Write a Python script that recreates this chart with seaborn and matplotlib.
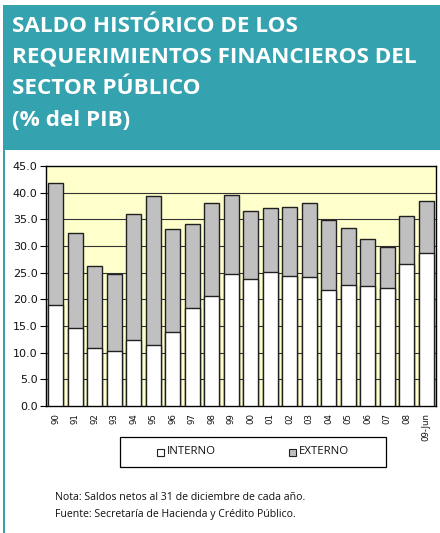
import matplotlib
matplotlib.use("Agg")
import matplotlib.pyplot as plt
import matplotlib.patches as mpatches
import seaborn as sns
import pandas as pd
import numpy as np

years = ["90", "91", "92", "93", "94", "95", "96", "97", "98", "99",
         "00", "01", "02", "03", "04", "05", "06", "07", "08", "09-Jun"]
interno = [18.9, 14.6, 10.8, 10.4, 12.3, 11.4, 13.9, 18.3, 20.7, 24.7,
           23.9, 25.1, 24.3, 24.1, 21.8, 22.6, 22.5, 22.2, 26.6, 28.6]
total = [41.9, 32.4, 26.3, 24.7, 36.0, 39.4, 33.2, 34.1, 38.0, 39.5,
         36.6, 37.1, 37.4, 38.1, 34.8, 33.4, 31.3, 29.8, 35.7, 38.5]
externo = [round(t - i, 1) for t, i in zip(total, interno)]
yticks = [0, 5, 10, 15, 20, 25, 30, 35, 40, 45]
series_names = ["INTERNO", "EXTERNO"]

df = pd.DataFrame({"anio": years, "interno": interno, "externo": externo})
df["total"] = df["interno"] + df["externo"]

sns.set_theme(style="white")
plt.rcParams['font.family'] = ['DejaVu Sans']

W, H = 440, 533
fig = plt.figure(figsize=(W / 100, H / 100), dpi=100)

def fx(px):
    return px / W

def fy(py):
    return 1 - py / H

teal = "#35A2AF"
# header box
fig.add_artist(mpatches.Rectangle((fx(4), fy(150)), 436 / W, 145 / H,
                                  transform=fig.transFigure, facecolor=teal,
                                  edgecolor="none"))
# left border line
fig.add_artist(mpatches.Rectangle((fx(3), 0), 2 / W, fy(5),
                                  transform=fig.transFigure, facecolor=teal,
                                  edgecolor="none"))
title_lines = ["SALDO HISTÓRICO DE LOS", "REQUERIMIENTOS FINANCIEROS DEL",
               "SECTOR PÚBLICO", "(% del PIB)"]
baselines = [32, 63, 94, 126]
for line, yy in zip(title_lines, baselines):
    fig.text(fx(12), fy(yy), line, color="white", fontsize=16.2,
             fontweight="bold", family=["Open Sans", "DejaVu Sans"],
             va="baseline", ha="left")

ax = fig.add_axes([fx(46), fy(406), 390 / W, 240 / H])
ax.set_facecolor("#FFFFCC")

sns.barplot(data=df, x="anio", y="total", color="#C0C0C0", edgecolor="#202020",
            linewidth=1.0, width=0.77, saturation=1, ax=ax, zorder=3)
sns.barplot(data=df, x="anio", y="interno", color="white", edgecolor="#202020",
            linewidth=1.0, width=0.77, saturation=1, ax=ax, zorder=4)

ax.set_ylim(0, 45)
ax.set_xlim(-0.5, len(years) - 0.5)
ax.set_yticks(yticks)
ax.set_yticklabels([f"{v:.1f}" for v in yticks], fontsize=8, color="#111111")
for v in yticks[1:-1]:
    ax.axhline(v, color="#333333", linewidth=0.8, zorder=1)

ax.set_xticks(np.arange(len(years)))
ax.set_xticklabels(years, rotation=90, fontsize=6.2, color="#111111")
ax.tick_params(axis="x", which="major", length=0, pad=5)
ax.set_xticks(np.arange(-0.5, len(years) + 0.5, 1), minor=True)
ax.tick_params(axis="x", which="minor", length=4, width=0.8, color="black", direction="out")
ax.tick_params(axis="y", length=4, width=0.8, color="black", direction="out", pad=2, left=True)
ax.set_xlabel("")
ax.set_ylabel("")
for s in ax.spines.values():
    s.set_color("black")
    s.set_linewidth(1.0)

# legend box
fig.add_artist(mpatches.Rectangle((fx(120), fy(467)), 266 / W, 30 / H,
                                  transform=fig.transFigure, facecolor="white",
                                  edgecolor="black", linewidth=0.9))
leg_colors = ["white", "#C0C0C0"]
leg_x = [157, 289]
for name, col, lx in zip(series_names, leg_colors, leg_x):
    fig.add_artist(mpatches.Rectangle((fx(lx), fy(455.5)), 7 / W, 7 / H,
                                      transform=fig.transFigure, facecolor=col,
                                      edgecolor="#222222", linewidth=0.8))
    fig.text(fx(lx + 10), fy(452), name, fontsize=8.2,
             family=["Open Sans", "DejaVu Sans"], va="center", ha="left",
             color="#111111")

fig.text(fx(55), fy(497), "Nota: Saldos netos al 31 de diciembre de cada año.",
         fontsize=7.6, family=["Open Sans", "DejaVu Sans"], va="center", color="#111111")
fig.text(fx(55), fy(515), "Fuente: Secretaría de Hacienda y Crédito Público.",
         fontsize=7.6, family=["Open Sans", "DejaVu Sans"], va="center", color="#111111")

fig.savefig("out.png", dpi=100)
